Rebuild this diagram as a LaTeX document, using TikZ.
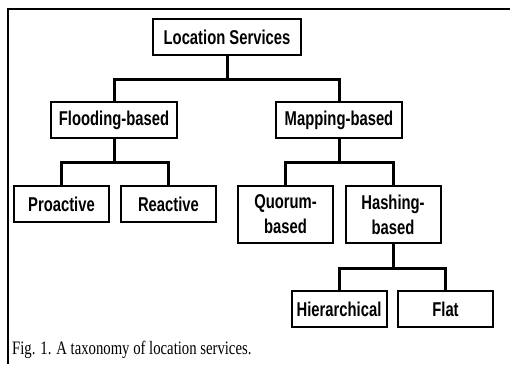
\documentclass[tikz,border=0pt]{standalone}
\usepackage{fontspec}
\setmainfont{Liberation Serif}
\setsansfont{Liberation Sans}

\newcommand{\narrowtext}[1]{\scalebox{0.74}[1]{#1}}

\tikzset{
  box/.style={draw, line width=2pt, minimum width=95pt, minimum height=36pt,
    inner sep=0pt, align=center,
    font=\sffamily\bfseries\fontsize{20}{25}\selectfont},
  link/.style={line width=3pt},
}

\begin{document}
\begin{tikzpicture}[x=1pt,y=-1pt]
  \useasboundingbox (0,0) rectangle (510,364);
  \draw[line width=2pt] (8,364) -- (8,9) -- (510,9);

  \node[box, minimum width=148pt] (ls) at (227,37) {\narrowtext{Location Services}};
  \node[box, minimum width=126pt] (fb) at (114,120) {\narrowtext{Flooding-based}};
  \node[box, minimum width=126pt] (mb) at (339,120) {\narrowtext{Mapping-based}};
  \node[box] (pro) at (61.5,204) {\narrowtext{Proactive}};
  \node[box] (rea) at (168.5,204) {\narrowtext{Reactive}};
  \node[box, minimum height=57pt] (quo) at (285.5,214.5)
    {\narrowtext{Quorum-}\\\narrowtext{based}};
  \node[box, minimum height=57pt] (has) at (393,214.5)
    {\narrowtext{Hashing-}\\\narrowtext{based}};
  \node[box] (hie) at (339,309) {\narrowtext{Hierarchical}};
  \node[box] (fla) at (445.5,309) {\narrowtext{Flat}};

  \draw[link] (ls.south) -- ++(0,23) coordinate (lsj) -| (fb.north);
  \draw[link] (lsj) -| (mb.north);
  \draw[link] (fb.south) -- ++(0,23) coordinate (fbj) -| (pro.north);
  \draw[link] (fbj) -| (rea.north);
  \draw[link] (mb.south) -- ++(0,23) coordinate (mbj) -| (quo.north);
  \draw[link] (mbj) -| (has.north);
  \draw[link] (has.south) -- ++(0,24) coordinate (hsj) -| (hie.north);
  \draw[link] (hsj) -| (fla.north);

  \node[anchor=base west, inner sep=0pt, font=\fontsize{19}{23}\selectfont]
    (cap) at (12,354) {\scalebox{0.775}[1]{Fig. 1. A taxonomy of location services.}};
\end{tikzpicture}
\end{document}
